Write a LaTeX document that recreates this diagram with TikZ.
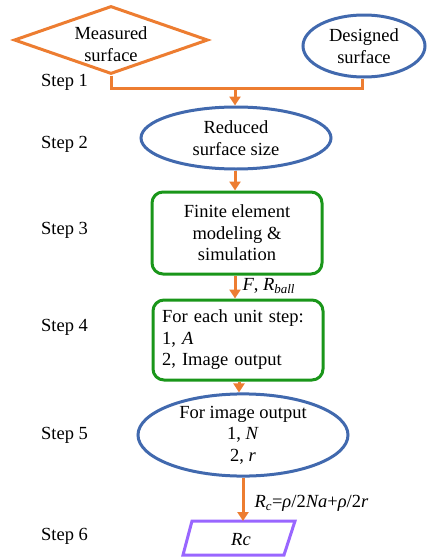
\documentclass[tikz,border=0pt]{standalone}
\usepackage{fontspec}
\setmainfont{Liberation Serif}
\usetikzlibrary{shapes.geometric,arrows.meta}
\definecolor{ora}{HTML}{ED7D31}
\definecolor{blu}{HTML}{4169AE}
\definecolor{grn}{HTML}{1A961A}
\definecolor{pur}{HTML}{9966FF}
\begin{document}
\begin{tikzpicture}[x=1pt,y=-1pt,
  every node/.style={font=\fontsize{18.5}{21.5}\selectfont},
  txt/.style={align=center,inner sep=0},
  oval/.style={ellipse,draw=blu,line width=3pt,inner sep=0,align=center},
  rbox/.style={rectangle,rounded corners=11pt,draw=grn,line width=3pt,align=center,inner sep=0},
  conn/.style={draw=ora,line width=3pt},
  arr/.style={conn,-{Triangle[length=9pt,width=11pt]}},
  steplab/.style={anchor=west,inner sep=0}]
\useasboundingbox (0,0) rectangle (427,557);
% Step 1
\node[diamond,draw=ora,line width=3pt,minimum width=194pt,minimum height=68pt,inner sep=0] (meas) at (111,40) {};
\node[txt] (meastxt) at (111,44) {Measured\\surface};
\node[oval,minimum width=122pt,minimum height=62pt] (des) at (364,46) {Designed\\surface};
% Step 2
\node[oval,minimum width=190pt,minimum height=62pt] (red) at (236,138) {Reduced\\surface size};
% Step 3
\node[rbox,minimum width=170pt,minimum height=82pt] (fem) at (237,233) {Finite element\\modeling \&\\simulation};
% Step 4
\node[rbox,minimum width=170pt,minimum height=80pt,align=left,text width=152pt] (each) at (238,340) {For each unit step:\\1, \textit{A}\\2, Image output};
% Step 5
\node[oval,minimum width=210pt,minimum height=75pt] (img) at (243,435) {For image output\\1, \textit{N}\\2, \textit{r}};
% Step 6
\coordinate (p1) at (192,521);
\coordinate (p2) at (295,521);
\coordinate (p3) at (284,555);
\coordinate (p4) at (183,555);
\draw[draw=pur,line width=3pt,line join=miter] (p1) -- (p2) -- (p3) -- (p4) -- cycle;
\node[txt] (rc) at (241,540) {\textit{Rc}};
% step labels
\node[steplab] (s1) at (41,82) {Step 1};
\node[steplab] (s2) at (41,144) {Step 2};
\node[steplab] (s3) at (41,230) {Step 3};
\node[steplab] (s4) at (41,327) {Step 4};
\node[steplab] (s5) at (41,435) {Step 5};
\node[steplab] (s6) at (41,536) {Step 6};
% connectors
\coordinate (j) at (235,88);
\draw[conn] (meas.south) -- (111,88) -- (j) -- (362,88) -- (des.south -| 362,0);
\draw[arr] (j) -- (red.north -| j);
\draw[arr] (red.south -| 235,0) -- (fem.north -| 235,0);
\draw[arr] (fem.south -| 235,0) -- node[right=6pt,pos=0.45,inner sep=0] (lab1) {\textit{F}, \textit{R}\textsubscript{\textit{ball}}} (each.north -| 235,0);
\draw[arr] (each.south -| 239,0) -- (img.north -| 239,0);
\coordinate (rtop) at (243,521);
\draw[arr] (img.south) -- node[right=10pt,pos=0.6,inner sep=0] (lab2) {\textit{R}\textsubscript{\textit{c}}=\textit{ρ}/2\textit{Na}+\textit{ρ}/2\textit{r}} (rtop);
\end{tikzpicture}
\end{document}
